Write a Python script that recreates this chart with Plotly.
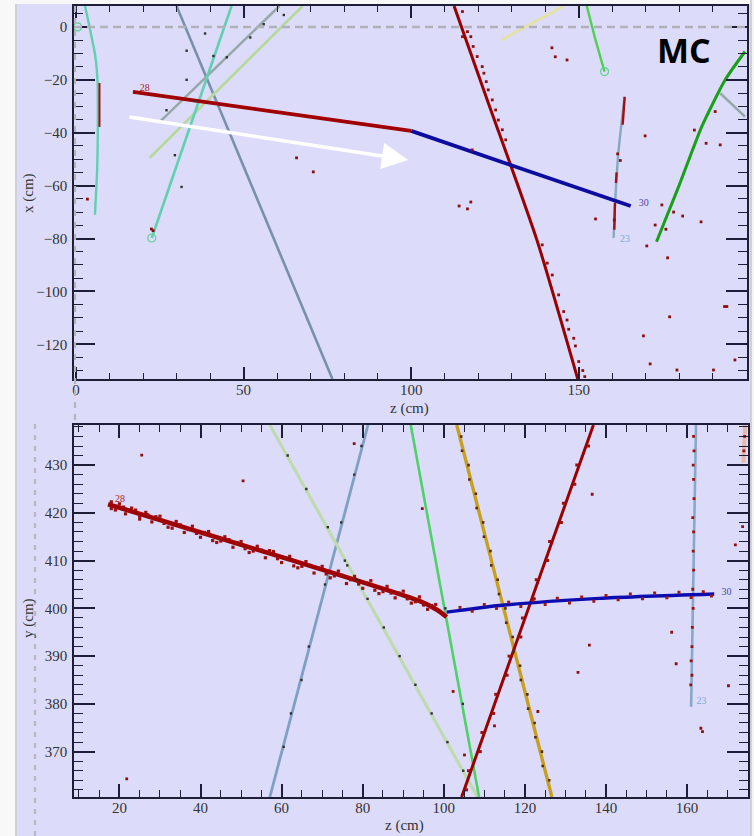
import plotly.graph_objects as go

W, H = 754, 836
BG = "#dcdcfa"
AXC = "#1e1e38"
SERIF = "Liberation Serif, Times New Roman, serif"

# ---------------- top view: x (cm) versus z (cm) ----------------
trk28_top_z = [17.0, 100.0]
trk28_top_x = [-24.6, -39.3]
trk30_top_z = [100.0, 129.2, 165.5]
trk30_top_x = [-39.3, -52.0, -67.7]
steep_red_top_z = [112.8, 122.7, 137.5, 149.7]
steep_red_top_x = [7.9, -27.6, -80.5, -133.1]
slate_top_z = [30.0, 76.5]
slate_top_x = [7.9, -133.1]
aqua_top_z = [46.4, 22.6]
aqua_top_x = [7.9, -79.8]
gray_top_z = [60.7, 25.0]
gray_top_x = [7.9, -35.9]
sage_top_z = [67.6, 22.0]
sage_top_x = [7.9, -49.5]
curl_top_z = [2.7, 4.2, 5.7, 6.4, 6.5, 6.3, 5.65]
curl_top_x = [7.9, -1.1, -10.6, -20.0, -39.0, -54.0, -71.0]
curl_red_z = [7.0, 7.0]
curl_red_x = [-21.2, -37.8]
pale_top_z = [127.0, 145.5]
pale_top_x = [-4.9, 7.9]
lime_top_z = [152.4, 155.0, 157.7]
lime_top_x = [7.9, -4.9, -16.9]
trk23_top_z = [163.7, 161.9, 160.9, 160.4]
trk23_top_x = [-26.3, -46.5, -65.4, -79.8]
trk23_red_segs = [([163.7, 163.1], [-26.5, -37.0]),
                  ([161.3, 161.1], [-55.0, -59.0]),
                  ([160.8, 160.6], [-66.5, -76.7])]
forest_top_z = [173.2, 179.8, 186.7, 193.7, 199.6]
forest_top_x = [-81.2, -60.4, -37.7, -20.0, -9.3]
stub_top_z = [192.2, 199.6]
stub_top_x = [-25.1, -33.9]

hits_top_z = [65.8, 70.8, 114.3, 117.8, 116.8, 142.0, 143.0, 146.5, 169.8, 192.2,
              190.7, 155.0, 174.8, 178.3, 186.5, 172.8, 170.3, 176.5, 177.1, 169.3,
              171.3, 193.5, 194.2, 179.3, 190.2, 196.6, 3.4, 22.5, 23.0, 118.2,
              115.3, 116.8, 117.8, 115.3, 118.5, 119.7, 121.2, 121.7, 122.4, 123.0,
              124.2, 125.2, 126.0, 127.2, 128.2,
              139.1, 140.6, 142.1, 144.0, 145.5, 146.5, 147.0, 148.5, 149.0, 150.0,
              151.2, 151.8, 162.4, 160.6, 161.6, 176.0, 181.0, 188.0, 184.5]
hits_top_x = [-49.5, -54.8, -67.7, -66.2, -68.8, -7.9, -11.3, -12.5, -41.2, -44.6,
              -32.0, -72.6, -67.3, -70.0, -73.7, -74.9, -82.8, -87.3, -109.6, -116.8,
              -127.4, -105.7, -105.7, -129.7, -129.7, -125.9, -65.1, -76.4, -77.0, -46.5,
              5.8, -1.8, -3.7, -3.7, -7.4, -11.2, -15.0, -17.5, -20.7, -23.8,
              -27.6, -31.4, -35.2, -38.9, -42.7,
              -82.4, -89.3, -93.8, -101.3, -107.6, -110.8, -114.3, -117.7, -120.6, -126.5,
              -129.9, -132.2, -50.5, -73.0, -48.0, -76.5, -71.5, -44.0, -39.0]
dark_top_z = [38.5, 33.0, 41.0, 52.0, 31.5, 45.0, 27.0, 35.5, 56.0, 62.0, 33.0, 29.5]
dark_top_x = [-2.5, -20.0, -11.0, -4.0, -60.5, -11.5, -31.5, -28.0, 1.0, 4.5, -9.0, -48.5]

lbl_top_z = [19.0, 167.9, 162.3]
lbl_top_x = [-23.1, -66.9, -80.5]
lbl_top_txt = ["28", "30", "23"]
lbl_top_col = ["#b01818", "#4848a0", "#80a8d0"]

vtx_top_z = [0.5, 22.6, 157.7]
vtx_top_x = [0.0, -79.8, -16.9]

arrow_tail = (15.5, -34.0)
arrow_head = (99.1, -50.3)

# ---------------- side view: y (cm) versus z (cm) ----------------
trk28_bot_z = [17.2, 94.1, 98.5, 100.7]
trk28_bot_y = [421.8, 401.5, 399.6, 398.2]
trk30_bot_z = [100.7, 113.8, 138.4, 166.7]
trk30_bot_y = [399.2, 400.6, 402.1, 403.0]
steep_red_bot_z = [104.4, 136.9]
steep_red_bot_y = [360.5, 438.4]
gold_bot_z = [103.2, 126.65]
gold_bot_y = [438.4, 360.5]
lime_bot_z = [91.85, 108.7]
lime_bot_y = [438.4, 360.5]
sage_bot_z = [57.1, 108.3]
sage_bot_y = [438.4, 360.5]
slate_bot_z = [81.3, 57.1]
slate_bot_y = [438.4, 360.5]
trk23_bot_z = [162.2, 161.0]
trk23_bot_y = [438.4, 379.4]
salmon_bot_z = [174.3, 173.9]
salmon_bot_y = [438.4, 430.5]

band28_z = [18, 18, 20, 21.5, 23, 25, 26.5, 28, 30, 32, 34, 36, 38, 40, 42, 44, 46, 48,
            50, 52, 54, 56, 58, 60, 62, 64, 66, 68, 70, 72, 74, 76, 78, 80, 82, 84,
            86, 88, 90, 92, 94, 96, 98, 19, 24, 29, 33, 37, 43, 47, 53, 57, 63, 67,
            73, 77, 83, 87, 91, 95,
            21, 25, 27, 31, 35, 39, 41, 45, 49, 51, 55, 59, 61, 65, 69, 71, 75, 79,
            81, 85, 89, 93, 97]
band28_y = [422.3, 420.9, 421.9, 419.8, 421.0, 418.7, 420.1, 418.1, 419.3, 417.0, 418.2,
            415.9, 417.2, 414.9, 416.1, 413.8, 415.0, 412.8, 414.0, 411.7, 413.0, 410.6,
            411.9, 409.6, 410.9, 408.5, 409.8, 407.4, 408.8, 406.4, 407.8, 405.2, 406.7,
            404.2, 405.8, 403.1, 404.6, 402.2, 403.6, 401.1, 402.4, 399.8, 400.8,
            420.6, 420.6, 419.2, 416.8, 416.5, 414.2, 414.4, 412.0, 412.1, 408.9, 409.0,
            406.8, 406.0, 403.8, 403.2, 402.0, 400.7,
            421.2, 419.3, 419.6, 417.8, 417.5, 415.7, 415.9, 414.1, 413.8, 412.5, 412.2,
            410.4, 410.6, 408.8, 408.5, 407.2, 406.9, 405.1, 405.3, 403.5, 403.2, 401.4,
            400.6]
band30_z = [104, 107, 110, 113, 116, 119, 122, 125, 128, 131, 134, 137, 140, 143, 146,
            149, 152, 155, 158, 161, 164, 166]
band30_y = [400.2, 399.4, 400.8, 400.0, 401.3, 400.4, 401.7, 400.8, 402.1, 401.1, 402.4,
            401.5, 402.7, 401.8, 403.0, 402.0, 403.2, 402.2, 403.4, 402.3, 403.5, 402.6]
band_steep_z = [105.6, 106.1, 109.0, 109.4, 112.3, 112.8, 115.6, 116.1, 119.0, 119.4,
                122.3, 122.8, 125.6, 126.1, 129.0, 129.5, 132.3, 132.8, 135.7]
band_steep_y = [362, 366, 370, 374, 378, 382, 386, 390, 394, 398, 402, 406, 410, 414,
                418, 422, 426, 430, 434]
band23_z = [161.6, 161.7, 161.5, 161.6, 161.7, 161.4, 161.6, 161.5, 161.6, 161.4,
            161.5, 161.3, 161.2, 161.0, 161.2, 160.9]
band23_y = [436, 433, 430, 427, 423, 419, 416, 412, 408, 404, 400, 396, 392, 389, 386, 384]
stray_bot_z = [21.8, 25.5, 50.5, 77.9, 94.7, 136.6, 173.7, 171.9, 135.9, 133.1, 156.2,
               157.3, 163.4, 163.8, 170.2, 105.1, 102.3, 112.5, 123.2, 174.2, 174.0]
stray_bot_y = [364.3, 432.1, 426.7, 434.5, 420.9, 423.9, 417.1, 413.3, 392.3, 386.6, 395.0,
               388.4, 374.9, 374.2, 383.8, 369.3, 382.6, 375.4, 378.4, 436.0, 433.0]
gold_hits_z = [104.3, 104.5, 106.1, 106.3, 107.9, 108.1, 109.7, 109.9, 111.5, 111.7,
               113.3, 113.6, 115.2, 115.4, 117.0, 117.2, 118.8, 119.0, 120.6, 120.8,
               122.4, 122.6, 124.2, 124.4, 126.0]
gold_hits_y = [436, 433, 430, 427, 424, 421, 418, 415, 412, 409, 406, 403, 400, 397, 394,
               391, 388, 385, 382, 379, 376, 373, 370, 367, 364]
dark_bot_z = [61.5, 66.1, 71.4, 75.6, 76.2, 78.6, 81.2, 85.2, 89.1, 93.0, 97.0, 100.9,
              104.8, 79.7, 77.9, 74.7, 70.7, 66.7, 64.9, 62.3, 60.5, 100.4, 104.7]
dark_bot_y = [432, 425, 417, 410, 409, 406, 402, 396, 390, 384, 378, 372, 366, 434, 428,
              418, 405, 392, 385, 378, 371, 400, 380]

lbl_bot_z = [18.9, 168.5, 162.3]
lbl_bot_y = [422.7, 403.4, 380.4]
lbl_bot_txt = ["28", "30", "23"]
lbl_bot_col = ["#b01818", "#4848a0", "#80a8d0"]

fig = go.Figure()


def line(xs, ys, color, width, xa="x", ya="y"):
    fig.add_trace(go.Scatter(x=xs, y=ys, mode="lines", xaxis=xa, yaxis=ya,
                             line=dict(color=color, width=width, shape="spline", smoothing=0.6),
                             hoverinfo="skip", showlegend=False))


def hits(xs, ys, color, size=3.0, xa="x", ya="y"):
    fig.add_trace(go.Scatter(x=xs, y=ys, mode="markers", xaxis=xa, yaxis=ya,
                             marker=dict(color=color, size=size, symbol="square"),
                             hoverinfo="skip", showlegend=False))


# top view tracks
line(slate_top_z, slate_top_x, "#7890aa", 2.6)
line(gray_top_z, gray_top_x, "#98a8a8", 2.6)
line(sage_top_z, sage_top_x, "#b8d8a0", 2.8)
line(aqua_top_z, aqua_top_x, "#60d0b0", 2.6)
line(curl_top_z, curl_top_x, "#60d0b0", 2.4)
line(curl_red_z, curl_red_x, "#a01010", 2.0)
line(pale_top_z, pale_top_x, "#e2e2a8", 3.0)
line(lime_top_z, lime_top_x, "#50d050", 2.4)
line(trk23_top_z, trk23_top_x, "#88a8c0", 2.4)
for sz, sx in trk23_red_segs:
    line(sz, sx, "#a01010", 2.4)
line(forest_top_z, forest_top_x, "#18a018", 3.0)
line(stub_top_z, stub_top_x, "#98a8a8", 2.6)
line(steep_red_top_z, steep_red_top_x, "#990000", 3.0)
line(trk28_top_z, trk28_top_x, "#a00000", 3.8)
line(trk30_top_z, trk30_top_x, "#0c0ca0", 3.8)
hits(hits_top_z, hits_top_x, "#8a1010", 2.8)
hits(dark_top_z, dark_top_x, "#303030", size=2.4)
fig.add_trace(go.Scatter(x=vtx_top_z, y=vtx_top_x, mode="markers",
                         marker=dict(symbol="circle-open", size=8, color="#60d090", line=dict(width=1.2)),
                         hoverinfo="skip", showlegend=False))
fig.add_trace(go.Scatter(x=lbl_top_z, y=lbl_top_x, mode="text", text=lbl_top_txt,
                         textposition="middle right",
                         textfont=dict(family=SERIF, size=10, color=lbl_top_col),
                         hoverinfo="skip", showlegend=False))

# side view tracks
line(slate_bot_z, slate_bot_y, "#80a0c2", 2.8, "x2", "y2")
line(sage_bot_z, sage_bot_y, "#c0dab0", 3.2, "x2", "y2")
line(lime_bot_z, lime_bot_y, "#50d068", 2.6, "x2", "y2")
line(gold_bot_z, gold_bot_y, "#c8a020", 3.4, "x2", "y2")
line(trk23_bot_z, trk23_bot_y, "#88a8c8", 2.6, "x2", "y2")
line(salmon_bot_z, salmon_bot_y, "#e8b8a8", 4.0, "x2", "y2")
line(steep_red_bot_z, steep_red_bot_y, "#990000", 3.0, "x2", "y2")
line(trk28_bot_z, trk28_bot_y, "#a00000", 4.6, "x2", "y2")
line(trk30_bot_z, trk30_bot_y, "#0c0cb0", 3.4, "x2", "y2")
hits(band28_z, band28_y, "#9a1010", 3.2, "x2", "y2")
hits(band30_z, band30_y, "#9a1818", 3.0, "x2", "y2")
hits(band_steep_z, band_steep_y, "#9a1010", 3.0, "x2", "y2")
hits(band23_z, band23_y, "#9a1010", 2.8, "x2", "y2")
hits(stray_bot_z, stray_bot_y, "#8a1010", 2.8, "x2", "y2")
hits(gold_hits_z, gold_hits_y, "#5a2a10", 2.6, "x2", "y2")
hits(dark_bot_z, dark_bot_y, "#303030", 2.4, "x2", "y2")
fig.add_trace(go.Scatter(x=lbl_bot_z, y=lbl_bot_y, mode="text", text=lbl_bot_txt,
                         textposition="middle right", xaxis="x2", yaxis="y2",
                         textfont=dict(family=SERIF, size=10, color=lbl_bot_col),
                         hoverinfo="skip", showlegend=False))


def px_x(p):
    return p / W


def px_y(p):
    return 1 - p / H


def axis(rng, dtick, mdtick, tlen, mlen, dom, anchor, standoff):
    return dict(range=rng, domain=dom, anchor=anchor, dtick=dtick, tick0=0,
                showline=True, linecolor=AXC, linewidth=1.6, mirror="allticks",
                ticks="inside", ticklen=tlen, tickwidth=1.6, tickcolor=AXC,
                minor=dict(ticks="inside", ticklen=mlen, tickwidth=1.4, tickcolor=AXC,
                           dtick=mdtick, tick0=0, showgrid=False),
                showgrid=False, zeroline=False, automargin=False, fixedrange=True,
                ticklabelstandoff=standoff,
                tickfont=dict(family=SERIF, size=15, color="#333333"))


top_xdom = [px_x(74), px_x(747)]
top_ydom = [px_y(379), px_y(6)]
bot_xdom = [px_x(74), px_x(747.5)]
bot_ydom = [px_y(797), px_y(425)]

shapes = [
    dict(type="rect", xref="paper", yref="paper", x0=0, x1=px_x(15), y0=0, y1=1,
         fillcolor="#f8f8f8", line=dict(width=0), layer="below"),
    dict(type="line", xref="paper", yref="paper", x0=px_x(16), x1=px_x(16), y0=0, y1=1,
         line=dict(color="#d0d0d8", width=2), layer="below"),
    dict(type="rect", xref="paper", yref="paper", x0=0, x1=1, y0=px_y(4), y1=1,
         fillcolor="#f8f8f8", line=dict(width=0), layer="below"),
    dict(type="rect", xref="paper", yref="paper", x0=px_x(751), x1=1, y0=0, y1=1,
         fillcolor="#f4f4f4", line=dict(width=0), layer="below"),
    dict(type="line", xref="paper", yref="paper", x0=px_x(751), x1=px_x(751), y0=0, y1=1,
         line=dict(color="#c8c8cc", width=1.5), layer="below"),
    # detector boundary guides
    dict(type="line", xref="x", yref="y", x0=-0.6, x1=200.2, y0=0, y1=0,
         line=dict(color="#b0b0b8", width=2.5, dash="8px,5px"), layer="above"),
    dict(type="line", xref="paper", yref="paper", x0=px_x(75), x1=px_x(75),
         y0=px_y(420), y1=px_y(6),
         line=dict(color="#b4b4bc", width=2.2, dash="6px,6px"), layer="above"),
    dict(type="line", xref="paper", yref="paper", x0=px_x(35), x1=px_x(35),
         y0=0, y1=px_y(420),
         line=dict(color="#b8b8c0", width=2.2, dash="5px,6px"), layer="above"),
]


def label(px, py, text, size=15, angle=0, family=SERIF, color="#333333"):
    return dict(x=px_x(px), y=px_y(py), xref="paper", yref="paper", text=text,
                xanchor="center", yanchor="middle", textangle=angle, showarrow=False,
                font=dict(family=family, size=size, color=color))


annotations = [
    dict(x=arrow_head[0], y=arrow_head[1], ax=arrow_tail[0], ay=arrow_tail[1],
         xref="x", yref="y", axref="x", ayref="y", text="", showarrow=True,
         arrowhead=2, arrowsize=1.5, arrowwidth=3.5, arrowcolor="#ffffff"),
    label(684, 50, "<b>MC</b>", size=34, family="Open Sans", color="#000000"),
    label(410, 408, "z (cm)"),
    label(404, 825, "z (cm)"),
    label(28, 193, "x (cm)", angle=-90),
    label(28, 618, "y (cm)", angle=-90),
]

fig.update_layout(
    width=W, height=H, margin=dict(l=0, r=0, t=0, b=0),
    paper_bgcolor=BG, plot_bgcolor=BG, showlegend=False,
    font=dict(family=SERIF),
    xaxis=axis([-0.6, 200.2], 50, 10, 12, 6, top_xdom, "y", -4),
    yaxis=axis([-133.1, 7.9], 20, 5, 21, 9, top_ydom, "x", 2),
    xaxis2=axis([8.8, 174.9], 20, 5, 13, 7, bot_xdom, "y2", -4),
    yaxis2=axis([360.5, 438.4], 10, 2, 21, 9, bot_ydom, "x2", 2),
    shapes=shapes, annotations=annotations,
)

fig.write_html("out.html")
